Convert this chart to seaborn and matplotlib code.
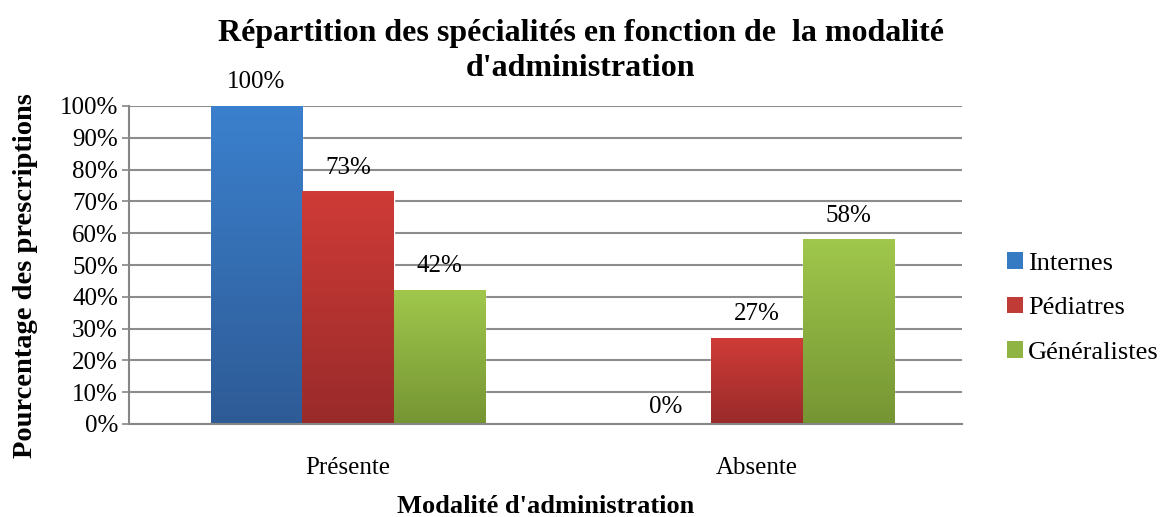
import numpy as np
import pandas as pd
import matplotlib
matplotlib.use("Agg")
import matplotlib.pyplot as plt
import seaborn as sns
from matplotlib.colors import LinearSegmentedColormap
from matplotlib.patches import Patch

categories = ["Présente", "Absente"]
series = ["Internes", "Pédiatres", "Généralistes"]
internes = [1.00, 0.00]
pediatres = [0.73, 0.27]
generalistes = [0.42, 0.58]
yticks = [0, 0.1, 0.2, 0.3, 0.4, 0.5, 0.6, 0.7, 0.8, 0.9, 1.0]
ytick_labels = ["0%", "10%", "20%", "30%", "40%", "50%", "60%", "70%", "80%", "90%", "100%"]
title_lines = ["Répartition des spécialités en fonction de  la modalité", "d'administration"]

top_colors = ["#3b80cd", "#cf3b37", "#a0c74c"]
bot_colors = ["#2e5b96", "#992b2a", "#759533"]
mid_colors = ["#357bc3", "#c03a36", "#8fb444"]

rows = []
for s, vals in zip(series, [internes, pediatres, generalistes]):
    for c, v in zip(categories, vals):
        rows.append({"Modalité": c, "Spécialité": s, "Valeur": v})
df = pd.DataFrame(rows)

sns.set_theme(style="white")
plt.rcParams["font.family"] = ["Liberation Serif", "DejaVu Serif"]
plt.rcParams["text.color"] = "black"
plt.rcParams["axes.labelcolor"] = "black"
plt.rcParams["xtick.color"] = "black"
plt.rcParams["ytick.color"] = "black"

fig = plt.figure(figsize=(11.61, 5.17), dpi=100)
ax = fig.add_axes([129 / 1161, 1 - 424 / 517, (962 - 129) / 1161, (424 - 106) / 517])

sns.barplot(data=df, x="Modalité", y="Valeur", hue="Spécialité", order=categories,
            hue_order=series, palette=mid_colors, width=0.67, ax=ax, legend=False,
            saturation=1, errorbar=None)

ax.set_xlim(-0.535, 1.501)
ax.set_ylim(0, 1.0)

# gradients + labels
values_by_series = [internes, pediatres, generalistes]
bars = [p for p in ax.patches]
for i, p in enumerate(bars):
    si = i // len(categories)
    ci = i % len(categories)
    x, w = p.get_x(), p.get_width()
    h = p.get_height()
    cmap = LinearSegmentedColormap.from_list("g", [bot_colors[si], top_colors[si]])
    if h > 0:
        grad = np.linspace(1, 0, 100).reshape(-1, 1)
        ax.imshow(grad, extent=[x, x + w, 0, h], aspect="auto", cmap=cmap,
                  vmin=0, vmax=1, zorder=p.get_zorder() + 0.1, interpolation="bicubic")
    val = values_by_series[si][ci]
    off = 13 if h > 0 else 8
    ax.annotate(f"{val*100:.0f}%", (x + w / 2, h), xytext=(0, off), textcoords="offset points",
                ha="center", va="baseline", fontsize=18, color="black")

ax.set_xlim(-0.535, 1.501)
ax.set_ylim(0, 1.0)
ax.set_yticks(yticks)
ax.set_yticklabels(ytick_labels, fontsize=18)
ax.tick_params(axis="y", length=5, width=1.2, color="#868686", pad=3, left=True, labelcolor="black")
ax.tick_params(axis="x", length=0, pad=24, labelsize=18, labelcolor="black")
ax.yaxis.grid(True, color="#8c8c8c", linewidth=1.5)
ax.set_axisbelow(True)
for s in ["top", "right"]:
    ax.spines[s].set_visible(False)
for s in ["left", "bottom"]:
    ax.spines[s].set_color("#868686")
    ax.spines[s].set_linewidth(1.5)

ax.set_xlabel("Modalité d'administration", fontsize=19, fontweight="bold", labelpad=11, color="black")
ax.set_ylabel("Pourcentage des prescriptions", fontsize=20.5, fontweight="bold", color="black")
ax.yaxis.set_label_coords((38 - 129) / 833, (424 - 276) / 318)

fig.text(0.5, 1 - 33 / 517, title_lines[0], ha="center", va="center",
         fontsize=23, fontweight="bold", color="black")
fig.text(0.5, 1 - 69 / 517, title_lines[1], ha="center", va="center",
         fontsize=23, fontweight="bold", color="black")

handles = [Patch(facecolor=c, edgecolor="none") for c in mid_colors]
fig.legend(handles, series, loc="center left", bbox_to_anchor=(1007 / 1161, 1 - 308 / 517),
           frameon=False, fontsize=19, handlelength=0.6, handleheight=0.6,
           handletextpad=0.2, labelspacing=0.82, borderpad=0, borderaxespad=0)

fig.savefig("out.png", dpi=100)
